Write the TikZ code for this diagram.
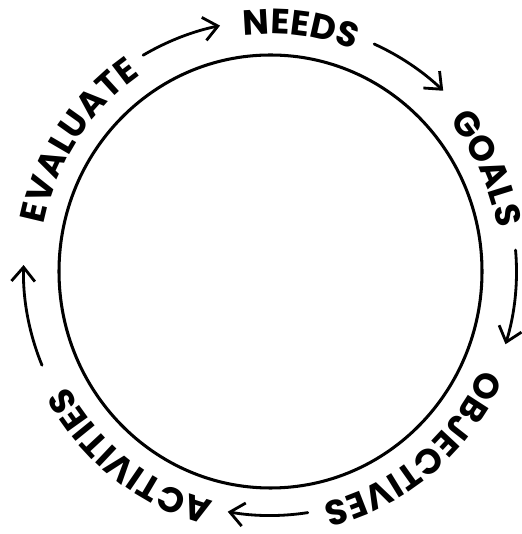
\documentclass[tikz,border=0pt]{standalone}
\usepackage{fontspec}
\setmainfont{Poppins}
\usetikzlibrary{arrows.meta,decorations.text}

\newcommand{\wordfont}{\fontsize{30}{34}\selectfont\bfseries}

\tikzset{
  ring/.style={line width=2.6pt},
  flow/.style={line width=2.4pt, line cap=round, -{Straight Barb[length=12pt,width=20pt]}},
}

\begin{document}
\wordfont
\begin{tikzpicture}[x=0.03cm, y=0.03cm]
\useasboundingbox (0,0) rectangle (521,534);
% centro e cerchio
\coordinate (c) at (270.5,262.5);
\draw[ring] (c) ellipse [x radius=211.5, y radius=216.5];
% parole lungo il cerchio (senso orario)
\foreach \w/\a/\b in {NEEDS/96.6/68.9, GOALS/39.5/10.5, OBJECTIVES/-24/-77,
                      ACTIVITIES/-104.3/-150.1, EVALUATE/168.6/124.2}{
  \path[decorate, decoration={text along path, text align=fit to path, text/.expanded=\w}]
    (c) ++(\a:231 and 237.5) arc[start angle=\a, end angle=\b, x radius=231, y radius=237.5];
}
% frecce tra le parole
\foreach \a/\b/\r in {120.5/101.6/251, 65.5/46.3/250, 5/-17.2/246, -81.2/-100.1/244, 202.3/178.5/247}{
  \draw[flow] (c) ++(\a:\r) arc[start angle=\a, end angle=\b, radius=\r];
}
\end{tikzpicture}
\end{document}
